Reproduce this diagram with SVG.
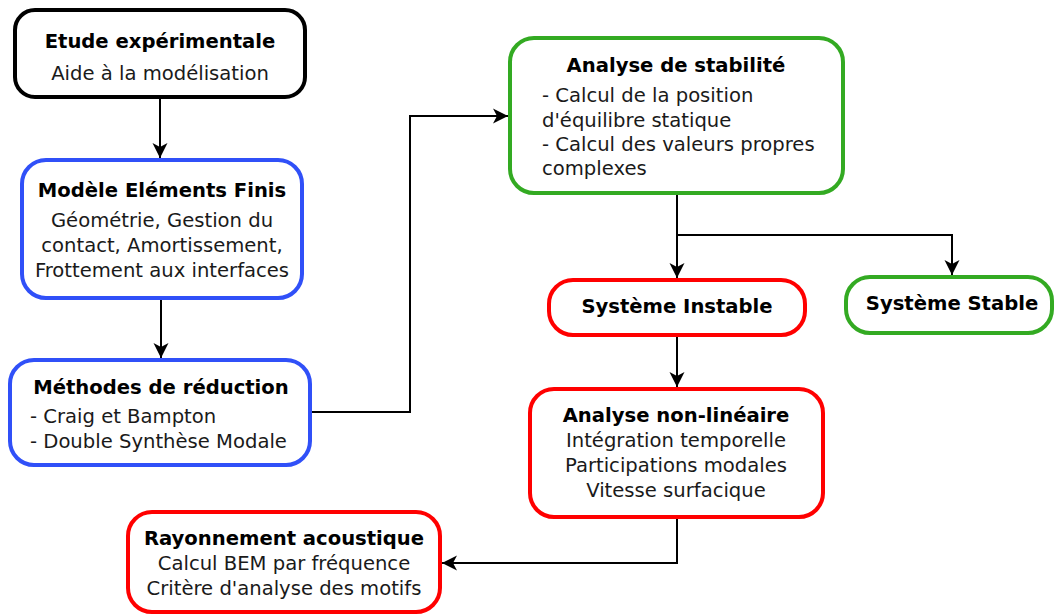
<svg xmlns="http://www.w3.org/2000/svg" width="1054" height="615" viewBox="0 0 1054 615">
<defs>
<style>
.box{fill:#fff;stroke-width:4}
.k{stroke:#000}
.b{stroke:#3050f8}
.g{stroke:#33aa22}
.r{stroke:#ff0000}
text{font-family:"DejaVu Sans","Liberation Sans",sans-serif;font-size:19.6px;fill:#1a1a1a}
.t{font-weight:bold;fill:#000}
.c{text-anchor:middle}
.conn{fill:none;stroke:#000;stroke-width:2}
</style>
<marker id="arr" viewBox="0 0 16 16" refX="15" refY="8" markerWidth="16" markerHeight="16" markerUnits="userSpaceOnUse" orient="auto">
<path d="M15,8 L0,0.5 L4,8 L0,15.5 Z" fill="#000"/>
</marker>
</defs>
<rect width="1054" height="615" fill="#fff"/>
<g id="connectors">
<path class="conn" d="M160,97 V158" marker-end="url(#arr)"/>
<path class="conn" d="M161,298 V358" marker-end="url(#arr)"/>
<path class="conn" d="M312,412 H410 V116 H508" marker-end="url(#arr)"/>
<path class="conn" d="M677,193 V278" marker-end="url(#arr)"/>
<path class="conn" d="M677,235 H952 V275" marker-end="url(#arr)"/>
<path class="conn" d="M677,335 V387" marker-end="url(#arr)"/>
<path class="conn" d="M677,517 V563 H442" marker-end="url(#arr)"/>
</g>
<g id="n1">
<rect class="box k" x="15" y="10" width="290" height="87" rx="20"/>
<text class="t c" x="160" y="48">Etude expérimentale</text>
<text class="c" x="160" y="80">Aide à la modélisation</text>
</g>
<g id="n2">
<rect class="box b" x="22" y="160" width="280" height="138" rx="24"/>
<text class="t c" x="162" y="197">Modèle Eléments Finis</text>
<text class="c" x="162" y="227">Géométrie, Gestion du</text>
<text class="c" x="162" y="252">contact, Amortissement,</text>
<text class="c" x="162" y="277">Frottement aux interfaces</text>
</g>
<g id="n3">
<rect class="box b" x="10" y="360" width="300" height="105" rx="24"/>
<text class="t c" x="161" y="394">Méthodes de réduction</text>
<text x="30" y="423">- Craig et Bampton</text>
<text x="30" y="448">- Double Synthèse Modale</text>
</g>
<g id="n4">
<rect class="box g" x="510" y="38" width="333" height="155" rx="24"/>
<text class="t c" x="676" y="72">Analyse de stabilité</text>
<text x="542" y="102">- Calcul de la position</text>
<text x="542" y="127">d'équilibre statique</text>
<text x="542" y="151">- Calcul des valeurs propres</text>
<text x="542" y="175">complexes</text>
</g>
<g id="n5">
<rect class="box r" x="549" y="280" width="256" height="55" rx="24"/>
<text class="t c" x="677" y="313">Système Instable</text>
</g>
<g id="n6">
<rect class="box g" x="846" y="277" width="206" height="56" rx="24"/>
<text class="t c" x="952" y="310">Système Stable</text>
</g>
<g id="n7">
<rect class="box r" x="530" y="389" width="293" height="128" rx="24"/>
<text class="t c" x="676" y="422">Analyse non-linéaire</text>
<text class="c" x="676" y="447">Intégration temporelle</text>
<text class="c" x="676" y="472">Participations modales</text>
<text class="c" x="676" y="497">Vitesse surfacique</text>
</g>
<g id="n8">
<rect class="box r" x="128" y="512" width="312" height="100" rx="24"/>
<text class="t c" x="284" y="545">Rayonnement acoustique</text>
<text class="c" x="284" y="570">Calcul BEM par fréquence</text>
<text class="c" x="284" y="595">Critère d'analyse des motifs</text>
</g>
</svg>
